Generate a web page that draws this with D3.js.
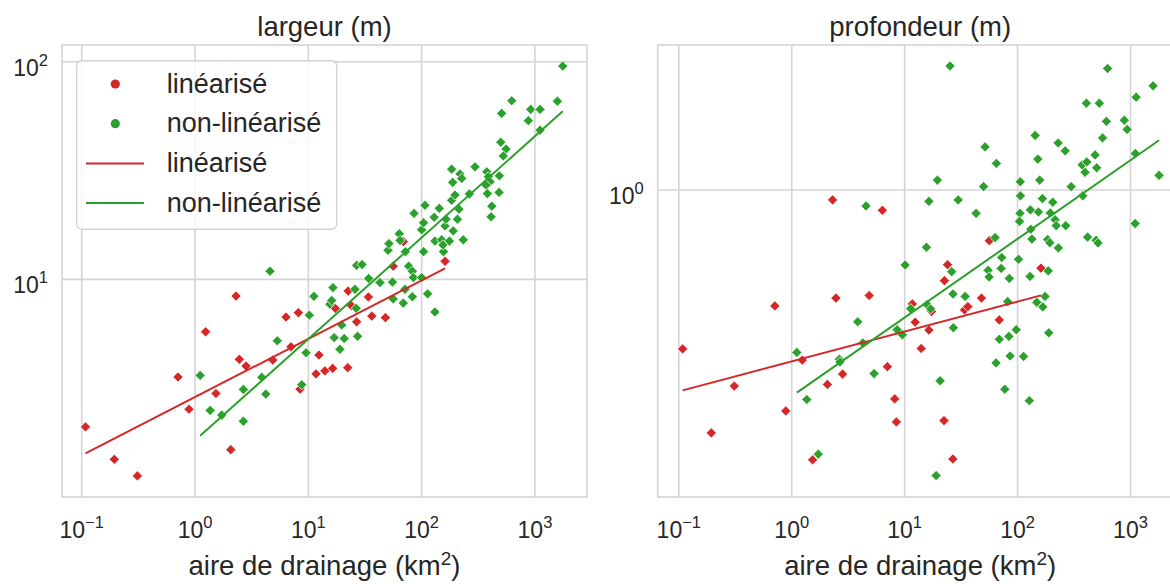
<!DOCTYPE html>
<html>
<head>
<meta charset="utf-8">
<script src="https://cdnjs.cloudflare.com/ajax/libs/d3/7.8.5/d3.min.js"></script>
<style>
  body { margin: 0; background: #fff; }
  svg { display: block; font-family: "Liberation Sans", Arial, sans-serif; }
</style>
</head>
<body>
<script>
// Stations "linéarisé" (same drainage area in both panels)
var redArea  = [0.108, 0.194, 0.31, 0.708, 0.885, 1.24, 1.53, 2.07, 2.30, 2.46, 2.82, 4.85, 6.35, 7.03, 8.16, 8.45,
                11.7, 12.4, 14.0, 16.4, 17.3, 22.3, 22.5, 24.0, 26.7, 33.9, 36.3, 47.9, 56.2, 68.9, 161];
var redWidth = [2.10, 1.49, 1.25, 3.56, 2.53, 5.74, 2.99, 1.65, 8.38, 4.29, 4.00, 4.26, 6.71, 4.90, 7.03, 3.13,
                3.68, 4.49, 3.80, 3.90, 7.36, 3.93, 8.84, 7.57, 6.38, 8.30, 6.78, 6.67, 11.5, 14.9, 12.1];
var redDepth = [0.391, 0.238, 0.314, 0.504, 0.271, 0.366, 0.203, 0.317, 0.943, 0.528, 0.337, 0.536, 0.887, 0.352, 0.291, 0.254,
                0.510, 0.458, 0.392, 0.437, 0.488, 0.256, 0.585, 0.643, 0.204, 0.492, 0.502, 0.528, 0.741, 0.464, 0.630];

// Stations "non-linéarisé", largeur panel
var greenAreaW = [1.11, 1.36, 1.72, 2.67, 2.67, 3.88, 4.21, 4.59, 5.32, 8.75, 9.55, 10.2, 11.2, 15.5, 16.1, 16.5,
                  16.9, 19.0, 19.7, 20.7, 25.8, 26.4, 27.2, 26.7, 29.8, 34.1, 42.9, 55.3, 56.2, 68.9, 50.5, 51.5,
                  63.5, 64.5, 71.8, 76.9, 82.8, 84.5, 100, 71.3, 82.8, 113, 131, 104, 156, 100, 131, 150,
                  154, 176, 233, 161, 190, 85.7, 104, 129, 164, 207, 107, 143, 184, 214, 197, 264,
                  188, 184, 218, 226, 296, 376, 388, 402, 370, 485, 380, 482, 416, 410, 499, 556,
                  526, 509, 624, 875, 918, 1109, 1109, 1578, 1758];
var greenWidth = [3.62, 2.50, 2.38, 3.12, 2.23, 3.55, 2.97, 10.9, 5.22, 3.28, 4.60, 6.85, 8.36, 7.69, 8.00, 9.17,
                  5.40, 4.77, 6.17, 5.35, 9.00, 7.36, 5.48, 11.6, 11.7, 10.1, 9.67, 9.72, 8.13, 7.78, 13.6, 14.6,
                  16.2, 15.1, 13.4, 11.5, 10.9, 10.2, 10.2, 9.00, 8.32, 8.58, 7.08, 13.4, 13.4, 16.9, 15.0, 15.2,
                  14.4, 15.0, 15.2, 17.6, 16.7, 20.1, 18.2, 19.3, 18.9, 18.9, 21.9, 21.2, 23.1, 21.0, 24.4, 24.7,
                  27.9, 32.1, 30.5, 29.1, 32.9, 31.2, 29.6, 28.1, 27.1, 29.9, 24.8, 25.1, 21.7, 19.4, 42.7, 39.7,
                  36.9, 57.9, 66.2, 53.6, 60.4, 60.4, 48.5, 65.9, 95.5];

// Stations "non-linéarisé", profondeur panel
var greenAreaD = [1.11, 1.36, 1.72, 2.64, 2.67, 3.84, 4.26, 4.55, 5.36, 8.57, 9.55, 10.1, 11.3, 15.6, 15.8, 16.4,
                  17.0, 19.0, 19.5, 20.6, 25.2, 26.1, 26.8, 27.0, 29.8, 34.3, 42.9, 50.0, 51.5, 54.8, 56.0, 63.2,
                  64.5, 64.9, 68.9, 72.4, 71.5, 77.1, 81.8, 83.8, 84.4, 85.9, 97.3, 102, 105, 104, 105.5, 106,
                  113, 127, 129, 130, 131, 134, 143, 148, 151, 153, 157, 166, 167, 175, 185, 187,
                  189, 193, 195, 205, 215, 220, 230, 229, 264, 267, 298, 373, 378, 396, 407, 410,
                  417, 486, 496, 502, 516, 530, 566, 612, 627, 881, 933, 1099, 1104, 1122, 1585, 1791];
var greenDepth = [0.383, 0.290, 0.210, 0.368, 0.362, 0.459, 0.405, 0.910, 0.338, 0.438, 0.425, 0.642, 0.496, 0.713, 0.508, 0.935,
                  0.495, 0.185, 1.06, 0.324, 2.08, 0.617, 0.541, 0.443, 0.943, 0.533, 0.871, 1.02, 1.29, 0.622, 0.598, 0.755,
                  0.360, 1.17, 0.414, 0.671, 0.629, 0.308, 0.517, 0.421, 0.593, 0.375, 0.438, 0.664, 0.871, 0.831, 1.05, 0.966,
                  0.374, 0.288, 0.600, 0.889, 0.793, 0.748, 1.38, 0.515, 1.20, 0.878, 1.06, 0.950, 0.501, 0.533, 0.746, 0.620,
                  0.430, 0.732, 0.873, 0.930, 0.839, 0.810, 0.710, 1.32, 1.26, 0.810, 1.02, 1.16, 0.966, 1.11, 1.67, 1.18,
                  0.757, 1.23, 0.743, 1.14, 0.731, 1.67, 1.36, 1.50, 2.05, 1.51, 1.43, 0.820, 1.24, 1.73, 1.85, 1.09];

// Power law fits: log10(y) = a + b * log10(area)
var fitWidthRed   = [0.459, 0.268];
var fitWidthGreen = [0.260, 0.466];
var fitDepthRed   = [-0.440, 0.0768];
var fitDepthGreen = [-0.529, 0.2018];

// Ticks
var xTicks = [0.1, 1, 10, 100, 1000];
var yTicksWidth = [10, 100];
var yTicksDepth = [1];

var legendLabels = ["linéarisé", "non-linéarisé", "linéarisé", "non-linéarisé"];

// Style
var red = "#d62728";
var green = "#2ca02c";
var gridColor = "#d4d4d4";
var textColor = "#262626";

// Layout
var panelTop = 45, panelBottom = 497, panelWidth = 525;

var svg = d3.select("body").append("svg")
    .attr("width", 1170)
    .attr("height", 584);

var diamond = d3.symbol().type(d3.symbolSquare).size(52)();

// "10" with a superscript exponent
function power(sel, exp, size, supSize, shift) {
  sel.append("tspan").attr("font-size", size).text("10");
  sel.append("tspan").attr("font-size", supSize).attr("dy", -shift)
     .text(String(exp).replace("-", "\u2212"));
}

function drawPanel(p) {
  var x = d3.scaleLog().domain(p.xDomain).range([p.x0, p.x0 + panelWidth]);
  var y = d3.scaleLog().domain(p.yDomain).range([panelBottom, panelTop]);
  var g = svg.append("g");

  // Grid
  g.selectAll(".vgrid").data(xTicks).enter().append("line")
     .attr("x1", function(d) { return x(d); })
     .attr("x2", function(d) { return x(d); })
     .attr("y1", panelTop).attr("y2", panelBottom)
     .attr("stroke", gridColor).attr("stroke-width", 1.6);

  g.selectAll(".hgrid").data(p.yTicks).enter().append("line")
     .attr("x1", p.x0).attr("x2", p.x0 + panelWidth)
     .attr("y1", function(d) { return y(d); })
     .attr("y2", function(d) { return y(d); })
     .attr("stroke", gridColor).attr("stroke-width", 1.6);

  // Frame
  g.append("rect")
     .attr("x", p.x0).attr("y", panelTop)
     .attr("width", panelWidth).attr("height", panelBottom - panelTop)
     .attr("fill", "none").attr("stroke", gridColor).attr("stroke-width", 1.6);

  // X tick labels
  g.selectAll(".xtick").data(xTicks).enter().append("text")
     .attr("x", function(d) { return x(d); })
     .attr("y", panelBottom + 41)
     .attr("text-anchor", "middle")
     .attr("fill", textColor)
     .each(function(d) { power(d3.select(this), Math.round(Math.log10(d)), 23, 16.5, 10); });

  // Y tick labels
  g.selectAll(".ytick").data(p.yTicks).enter().append("text")
     .attr("x", p.x0 - 14)
     .attr("y", function(d) { return y(d) + 14; })
     .attr("text-anchor", "end")
     .attr("fill", textColor)
     .each(function(d) { power(d3.select(this), Math.round(Math.log10(d)), 23, 16.5, 10); });

  // Title
  g.append("text")
     .attr("x", p.x0 + panelWidth / 2).attr("y", 36)
     .attr("text-anchor", "middle")
     .attr("font-size", 27.5).attr("fill", textColor)
     .text(p.title);

  // X label
  var xl = g.append("text")
     .attr("x", p.x0 + panelWidth / 2).attr("y", 575)
     .attr("text-anchor", "middle")
     .attr("font-size", 27.5).attr("fill", textColor);
  xl.append("tspan").text("aire de drainage (km");
  xl.append("tspan").attr("font-size", 19).attr("dy", -10).text("2");
  xl.append("tspan").attr("dy", 10).text(")");

  // Points: red first, green on top
  g.selectAll(".red").data(d3.zip(redArea, p.redY)).enter().append("path")
     .attr("d", diamond)
     .attr("transform", function(d) { return "translate(" + x(d[0]) + "," + y(d[1]) + ") rotate(45)"; })
     .attr("fill", red).attr("stroke", "#fff").attr("stroke-width", 0.7);

  g.selectAll(".green").data(d3.zip(p.greenX, p.greenY)).enter().append("path")
     .attr("d", diamond)
     .attr("transform", function(d) { return "translate(" + x(d[0]) + "," + y(d[1]) + ") rotate(45)"; })
     .attr("fill", green).attr("stroke", "#fff").attr("stroke-width", 0.7);

  // Fit lines over each group's area range
  var line = d3.line()
     .x(function(d) { return x(d[0]); })
     .y(function(d) { return y(d[1]); });

  [[redArea, p.fitRed, red], [p.greenX, p.fitGreen, green]].forEach(function(f) {
    var pts = d3.extent(f[0]).map(function(a) {
      return [a, Math.pow(10, f[1][0] + f[1][1] * Math.log10(a))];
    });
    g.append("path").datum(pts)
       .attr("d", line)
       .attr("fill", "none").attr("stroke", f[2]).attr("stroke-width", 2);
  });
}

drawPanel({
  x0: 62, xDomain: [0.067, 2880], yDomain: [1.0, 119.4], yTicks: yTicksWidth,
  title: "largeur (m)", redY: redWidth, greenX: greenAreaW, greenY: greenWidth,
  fitRed: fitWidthRed, fitGreen: fitWidthGreen
});

drawPanel({
  x0: 657.7, xDomain: [0.065, 2900], yDomain: [0.163, 2.355], yTicks: yTicksDepth,
  title: "profondeur (m)", redY: redDepth, greenX: greenAreaD, greenY: greenDepth,
  fitRed: fitDepthRed, fitGreen: fitDepthGreen
});

// Legend
var legend = svg.append("g").attr("transform", "translate(76.7,60.7)");

legend.append("rect")
   .attr("width", 260).attr("height", 168.6)
   .attr("rx", 5)
   .attr("fill", "#fff").attr("fill-opacity", 0.8)
   .attr("stroke", gridColor).attr("stroke-width", 1.4);

var rows = legend.selectAll(".row").data(legendLabels).enter().append("g")
   .attr("transform", function(d, i) { return "translate(0," + (23.3 + i * 39.7) + ")"; });

rows.filter(function(d, i) { return i < 2; }).append("circle")
   .attr("cx", 38.6).attr("r", 4.6)
   .attr("fill", function(d, i) { return i == 0 ? red : green; });

rows.filter(function(d, i) { return i >= 2; }).append("line")
   .attr("x1", 9.3).attr("x2", 67.3)
   .attr("stroke", function(d, i) { return i == 0 ? red : green; })
   .attr("stroke-width", 2);

rows.append("text")
   .attr("x", 90).attr("y", 8.5)
   .attr("font-size", 27).attr("fill", textColor)
   .text(function(d) { return d; });
</script>
</body>
</html>
